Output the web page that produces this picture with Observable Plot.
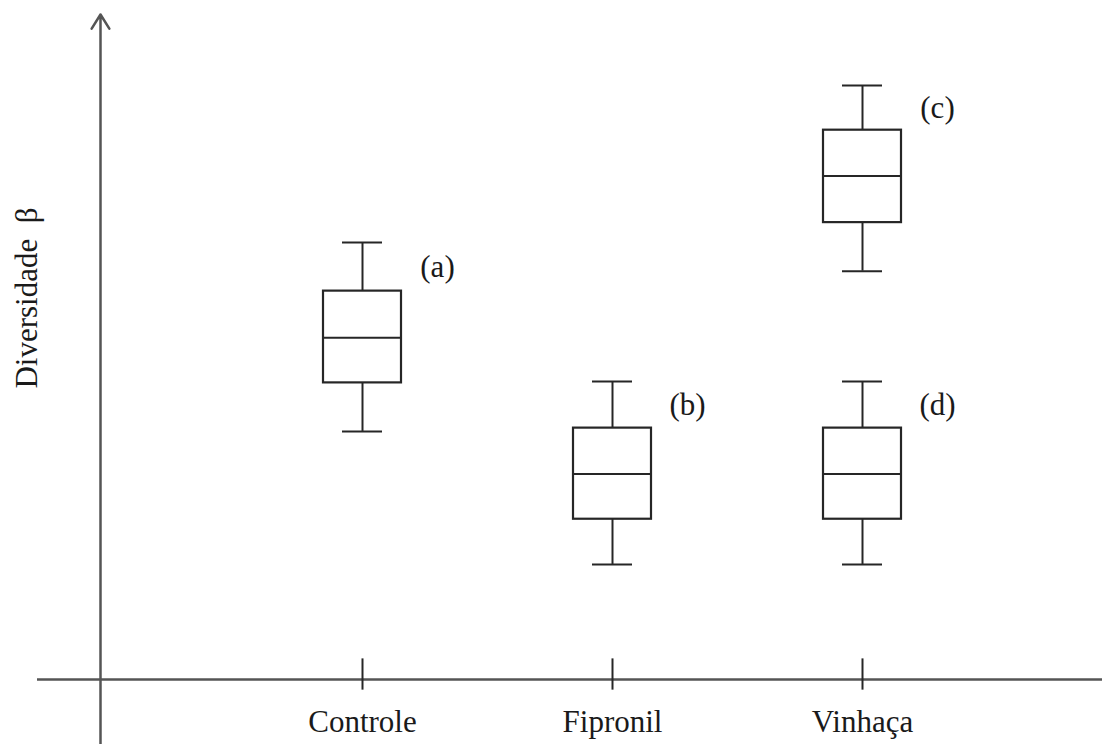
<!DOCTYPE html>
<html>
<head>
<meta charset="utf-8">
<script src="https://cdn.jsdelivr.net/npm/d3@7"></script>
<script src="https://cdn.jsdelivr.net/npm/@observablehq/plot@0.6"></script>
<style>
  html, body { margin: 0; padding: 0; background: #ffffff; }
  #chart svg { display: block; }
  #chart svg text { font-family: "Liberation Serif", "DejaVu Serif", serif; }
</style>
</head>
<body>
<div id="chart"></div>
<script>
// Treatments shown along the horizontal axis
const categories = ["Controle", "Fipronil", "Vinhaça"];

// One entry per box (Vinhaça has two groups, c and d)
const boxGroup  = ["Controle", "Fipronil", "Vinhaça", "Vinhaça"];
const boxLetter = ["(a)", "(b)", "(c)", "(d)"];
const whiskerLow  = [3.73, 1.73, 6.14, 1.73];
const quartile1   = [4.46, 2.41, 6.87, 2.41];
const medianValue = [5.14, 3.09, 7.57, 3.09];
const quartile3   = [5.84, 3.78, 8.26, 3.78];
const whiskerHigh = [6.57, 4.48, 8.93, 4.48];

const boxes = boxGroup.map((g, i) => ({
  group: g,
  pos: categories.indexOf(g),
  letter: boxLetter[i],
  low: whiskerLow[i],
  q1: quartile1[i],
  median: medianValue[i],
  q3: quartile3[i],
  high: whiskerHigh[i]
}));

// Geometry of the drawing (in scale units)
const BOX_HALF = 0.156;   // half box width
const CAP_HALF = 0.08;    // half whisker-cap width
const AXIS_LEFT = -1.30, AXIS_RIGHT = 2.96;   // extent of the horizontal axis
const Y_AXIS_AT = -1.048, Y_AXIS_BOTTOM = -1.0, Y_AXIS_TOP = 10;

const ink = "#262626";
const axisInk = "#555555";
const textInk = "#1a1a1a";
const serif = "Liberation Serif";

const chart = Plot.plot({
  width: 1102,
  height: 744,
  marginTop: 0,
  marginRight: 0,
  marginLeft: 0,
  marginBottom: 65,
  style: { background: "white", color: textInk },
  x: { type: "linear", domain: [-1.448, 2.96], range: [0, 1102], axis: null },
  y: { type: "linear", domain: [0, 10.21], axis: null },
  marks: [
    // horizontal axis line
    Plot.ruleY([0], { x1: AXIS_LEFT, x2: AXIS_RIGHT, stroke: axisInk, strokeWidth: 2.5 }),
    // vertical axis with arrow head
    Plot.arrow([0], {
      x1: Y_AXIS_AT, x2: Y_AXIS_AT, y1: Y_AXIS_BOTTOM, y2: Y_AXIS_TOP,
      stroke: axisInk, strokeWidth: 2.5, headLength: 10, headAngle: 64
    }),
    // category ticks crossing the axis
    Plot.ruleX([0, 1, 2], { x: d => d, y1: -0.16, y2: 0.31, stroke: ink, strokeWidth: 2 }),
    // category labels
    Plot.axisX({
      ticks: [0, 1, 2],
      tickFormat: i => categories[i],
      tickSize: 0,
      tickPadding: 30,
      fontSize: 31,
      fontFamily: serif,
      label: null
    }),
    // whiskers
    Plot.ruleX(boxes, { x: "pos", y1: "q3", y2: "high", stroke: ink, strokeWidth: 2 }),
    Plot.ruleX(boxes, { x: "pos", y1: "low", y2: "q1", stroke: ink, strokeWidth: 2 }),
    // whisker caps
    Plot.ruleY(boxes, { y: "high", x1: d => d.pos - CAP_HALF, x2: d => d.pos + CAP_HALF, stroke: ink, strokeWidth: 2 }),
    Plot.ruleY(boxes, { y: "low", x1: d => d.pos - CAP_HALF, x2: d => d.pos + CAP_HALF, stroke: ink, strokeWidth: 2 }),
    // interquartile boxes
    Plot.rect(boxes, {
      x1: d => d.pos - BOX_HALF, x2: d => d.pos + BOX_HALF,
      y1: "q1", y2: "q3",
      fill: "white", stroke: ink, strokeWidth: 2.2
    }),
    // medians
    Plot.ruleY(boxes, { y: "median", x1: d => d.pos - BOX_HALF, x2: d => d.pos + BOX_HALF, stroke: ink, strokeWidth: 2 }),
    // group letters
    Plot.text(boxes, {
      x: "pos", y: d => (d.high + d.q3) / 2, text: "letter",
      dx: 75, fontSize: 31, fontFamily: serif, fill: textInk
    }),
    // vertical axis title
    Plot.text(["Diversidade  β"], {
      frameAnchor: "left", textAnchor: "middle", text: d => d, rotate: -90,
      dx: 27, dy: -42, fontSize: 31, fontFamily: serif, fill: textInk
    })
  ]
});

document.getElementById("chart").append(chart);
</script>
</body>
</html>
